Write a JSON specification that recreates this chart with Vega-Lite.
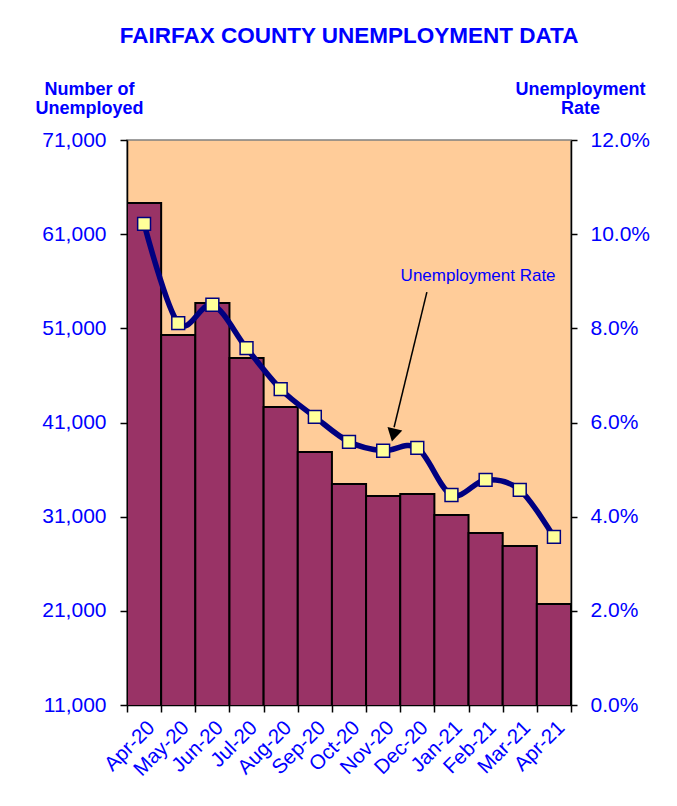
{
  "$schema": "https://vega.github.io/schema/vega-lite/v6.json",
  "autosize": "none",
  "width": 444,
  "height": 565,
  "padding": {"left": 127, "top": 140, "right": 106, "bottom": 101},
  "background": "white",
  "title": {
    "text": "FAIRFAX  COUNTY UNEMPLOYMENT DATA",
    "font": "Liberation Sans",
    "fontSize": 22.5,
    "fontWeight": "bold",
    "color": "#0000FF",
    "anchor": "middle",
    "baseline": "alphabetic",
    "offset": 15
  },
  "config": {
    "font": "Liberation Sans",
    "view": {"fill": "#FFCC99", "stroke": "#808080", "strokeWidth": 1.5},
    "axis": {
      "labelFont": "Liberation Sans",
      "labelColor": "#0000FF",
      "labelFontSize": 21,
      "tickColor": "#000000",
      "domainColor": "#000000",
      "domainWidth": 1.5,
      "tickWidth": 1.5,
      "grid": false,
      "titleFont": "Liberation Sans",
      "titleColor": "#0000FF",
      "titleFontSize": 18,
      "titleFontWeight": "bold"
    }
  },
  "datasets": {
    "main": [
      {"month": "Apr-20", "unemployed": 64300, "rate": 0.1022},
      {"month": "May-20", "unemployed": 50300, "rate": 0.0811},
      {"month": "Jun-20", "unemployed": 53700, "rate": 0.0850},
      {"month": "Jul-20", "unemployed": 47850, "rate": 0.0758},
      {"month": "Aug-20", "unemployed": 42650, "rate": 0.0671},
      {"month": "Sep-20", "unemployed": 37870, "rate": 0.0612},
      {"month": "Oct-20", "unemployed": 34470, "rate": 0.0559},
      {"month": "Nov-20", "unemployed": 33190, "rate": 0.0540},
      {"month": "Dec-20", "unemployed": 33400, "rate": 0.0546},
      {"month": "Jan-21", "unemployed": 31170, "rate": 0.0446},
      {"month": "Feb-21", "unemployed": 29260, "rate": 0.0478},
      {"month": "Mar-21", "unemployed": 27880, "rate": 0.0457},
      {"month": "Apr-21", "unemployed": 21720, "rate": 0.0357}
    ],
    "label": [
      {"ax": 10.28, "ay": 0.0911, "text": "Unemployment  Rate"}
    ],
    "arrow": [
      {"ax": 8.78, "ay": 0.0877, "ax2": 7.82, "ay2": 0.0590}
    ],
    "head": [
      {"ax": 7.80, "ay": 0.0573}
    ]
  },
  "layer": [
    {
      "data": {"name": "main"},
      "mark": {"type": "bar", "fill": "#993366", "stroke": "#000000", "strokeWidth": 2, "clip": true},
      "encoding": {
        "x": {
          "field": "month", "type": "nominal", "sort": null,
          "scale": {"paddingInner": 0, "paddingOuter": 0},
          "axis": {"title": null, "labelAngle": -45, "tickBand": "extent", "tickSize": 7, "labelPadding": 5, "labelFontSize": 20.5}
        },
        "y": {
          "field": "unemployed", "type": "quantitative",
          "scale": {"domain": [11000, 71000], "zero": false, "nice": false},
          "axis": {
            "orient": "left",
            "title": ["Number of", "Unemployed"],
            "titleAngle": 0, "titleAlign": "center", "titleBaseline": "alphabetic",
            "titleX": -38, "titleY": -46, "titleLineHeight": 19,
            "values": [11000, 21000, 31000, 41000, 51000, 61000, 71000],
            "format": ",.0f", "tickSize": 7, "labelPadding": 14
          }
        }
      }
    },
    {
      "data": {"name": "main"},
      "mark": {
        "type": "line", "color": "#000080", "strokeWidth": 5.5, "interpolate": "cardinal",
        "point": {"shape": "square", "size": 165, "filled": true, "fill": "#FFFF99", "stroke": "#000080", "strokeWidth": 1.5, "opacity": 1}
      },
      "encoding": {
        "x": {"field": "month", "type": "nominal", "sort": null, "axis": null},
        "y": {
          "field": "rate", "type": "quantitative",
          "scale": {"domain": [0, 0.12], "nice": false, "zero": true},
          "axis": {
            "orient": "right",
            "title": ["Unemployment", "Rate"],
            "titleAngle": 0, "titleAlign": "center", "titleBaseline": "alphabetic",
            "titleX": 9, "titleY": -46, "titleLineHeight": 19,
            "values": [0, 0.02, 0.04, 0.06, 0.08, 0.1, 0.12],
            "format": ".1%", "tickSize": 6, "labelPadding": 13
          }
        }
      }
    },
    {
      "data": {"name": "arrow"},
      "mark": {"type": "rule", "color": "#000000", "strokeWidth": 1.5},
      "encoding": {
        "x": {"field": "ax", "type": "quantitative", "scale": {"domain": [0, 13], "nice": false, "zero": true}, "axis": null},
        "y": {"field": "ay", "type": "quantitative", "scale": {"domain": [0, 0.12], "nice": false}, "axis": null},
        "x2": {"field": "ax2"},
        "y2": {"field": "ay2"}
      }
    },
    {
      "data": {"name": "head"},
      "mark": {"type": "point", "shape": "triangle-down", "size": 230, "filled": true, "fill": "#000000", "opacity": 1, "angle": 13},
      "encoding": {
        "x": {"field": "ax", "type": "quantitative", "scale": {"domain": [0, 13], "nice": false, "zero": true}, "axis": null},
        "y": {"field": "ay", "type": "quantitative", "scale": {"domain": [0, 0.12], "nice": false}, "axis": null}
      }
    },
    {
      "data": {"name": "label"},
      "mark": {"type": "text", "font": "Liberation Sans", "fontSize": 17, "color": "#0000FF", "align": "center", "baseline": "middle"},
      "encoding": {
        "x": {"field": "ax", "type": "quantitative", "scale": {"domain": [0, 13], "nice": false, "zero": true}, "axis": null},
        "y": {"field": "ay", "type": "quantitative", "scale": {"domain": [0, 0.12], "nice": false}, "axis": null},
        "text": {"field": "text"}
      }
    }
  ],
  "resolve": {"scale": {"x": "independent", "y": "independent"}}
}
